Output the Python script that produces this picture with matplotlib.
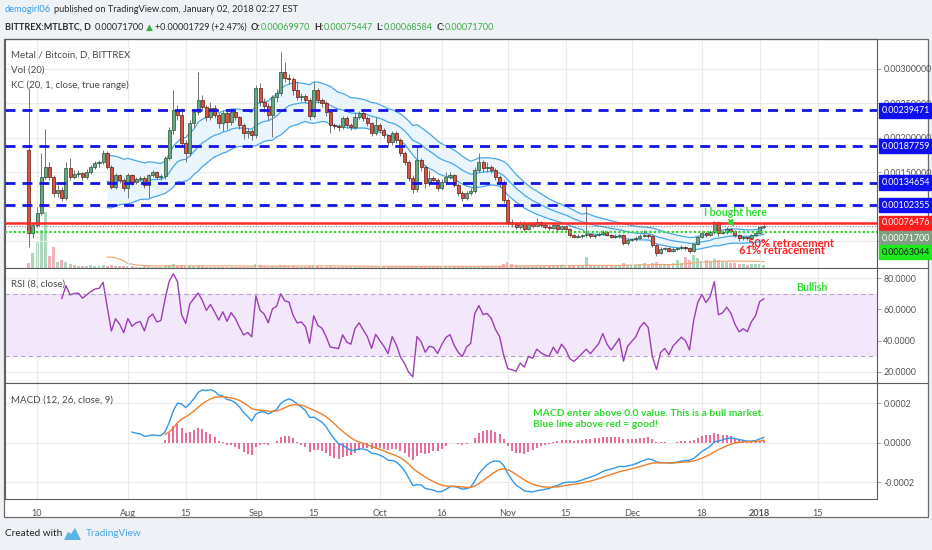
import numpy as np
import pandas as pd
import matplotlib

matplotlib.use("Agg")
import matplotlib.pyplot as plt
from matplotlib.patches import Rectangle, Polygon
from matplotlib.lines import Line2D

W, H = 932, 550
FONT = ["Lato", "DejaVu Sans"]
plt.rcParams["font.family"] = FONT

# ---- data: MTL/BTC daily candles, prices in satoshi (1e-8 BTC) ----
dates = pd.date_range("2017-07-08", "2018-01-02", freq="D")

open_sat = [
    182200, 61900, 73500, 90900, 143100, 157500, 143100, 119900, 124200, 112600,
    156100, 143100, 147400, 148800, 143100, 150300, 157500, 163300, 164800, 177800,
    157500, 128600, 145900, 138700, 127100, 145900, 135800, 140200, 141600, 131500,
    145900, 150300, 143100, 144500, 170600, 211200, 240200, 232900, 192300, 177800,
    221300, 237300, 254600, 244500, 230000, 243100, 232900, 221300, 235800, 222800,
    237300, 230000, 218400, 206800, 209700, 203900, 272000, 251700, 246000, 232900,
    259000, 264800, 295200, 286500, 285100, 269100, 259000, 260400, 254600, 231400,
    269100, 254600, 250300, 237300, 218400, 217000, 215500, 228600, 218400, 215500,
    230000, 235800, 228600, 221300, 206800, 218400, 211200, 203900, 193800, 206800,
    196700, 177800, 164800, 141600, 125700, 167700, 157500, 134300, 141600, 138700,
    127100, 135800, 143100, 145900, 131500, 119900, 112600, 119900, 122800, 153200,
    164800, 156100, 157500, 153200, 143100, 135800, 109700, 77800, 74900, 70600,
    76400, 67700, 74900, 72000, 77800, 73500, 70600, 69100, 73500, 67700,
    72000, 67700, 59000, 56100, 57500, 59000, 60400, 57500, 59000, 60400,
    63300, 59000, 56100, 57500, 59000, 47400, 51700, 53200, 54600, 57500,
    59000, 57500, 44500, 32900, 38700, 40200, 35800, 38700, 40200, 41600,
    40200, 35800, 45900, 56100, 61900, 59000, 63300, 77800, 61900, 63300,
    67700, 64800, 59000, 54600, 56100, 54600, 59000, 61900, 69970,
]
high_sat = [
    272000, 78000, 100000, 177800, 213000, 165000, 146000, 131000, 128000, 164800,
    170600, 153000, 153000, 151000, 154000, 161000, 166000, 168000, 182200, 180000,
    160000, 149000, 148000, 141000, 149000, 148000, 143000, 145000, 144000, 148000,
    153000, 152000, 147000, 173000, 216000, 269000, 247000, 243000, 196000, 226000,
    241000, 295200, 262000, 248000, 251000, 247000, 236000, 240000, 238000, 241000,
    240000, 232000, 221000, 214000, 213000, 276000, 279000, 258000, 250000, 262000,
    270000, 324600, 310000, 292000, 288000, 282000, 265000, 263000, 257000, 280000,
    272000, 258000, 253000, 240000, 222000, 220000, 232000, 231000, 221000, 237000,
    239000, 238000, 231000, 223000, 230000, 221000, 214000, 206000, 210000, 209000,
    199000, 180000, 168000, 146000, 186800, 171000, 160000, 153000, 145000, 141000,
    140000, 150000, 151000, 148000, 134000, 123000, 123000, 127000, 157000, 177800,
    168000, 165000, 160000, 156000, 146000, 138000, 112600, 82000, 78000, 79000,
    79000, 77000, 77000, 84000, 80000, 76000, 73000, 76000, 75000, 74000,
    74000, 69000, 61000, 60000, 61000, 102000, 62000, 61000, 63000, 66000,
    65000, 61000, 60000, 61000, 61000, 54000, 55000, 57000, 60000, 66000,
    61000, 59000, 46000, 41000, 42000, 42000, 41000, 42000, 44000, 43000,
    42000, 48000, 58000, 65000, 64000, 66000, 80000, 80000, 66000, 70000,
    69000, 66000, 60000, 58000, 58000, 61000, 63000, 72000, 75447,
]
low_sat = [
    41600, 55000, 70000, 88000, 140000, 138000, 114000, 114000, 108000, 110000,
    138000, 140000, 143000, 139000, 140000, 147000, 155000, 158000, 162000, 155000,
    125000, 126000, 134000, 123000, 113000, 132000, 133000, 137000, 127000, 113000,
    143000, 140000, 139000, 140000, 167000, 205000, 226000, 186000, 164800, 174000,
    216000, 233000, 238000, 224000, 225000, 228000, 214000, 210000, 213000, 219000,
    226000, 212000, 198000, 200000, 196700, 200000, 246000, 237000, 226000, 200700,
    252000, 260000, 280000, 278000, 262000, 255000, 253000, 250000, 225500, 228000,
    250000, 245000, 232000, 206800, 212000, 210000, 212000, 214000, 211000, 212000,
    227000, 224000, 217000, 203000, 204000, 207000, 199000, 188000, 190000, 193000,
    174000, 160000, 137000, 119900, 122000, 152000, 127000, 130000, 133000, 123000,
    124000, 132000, 140000, 128000, 116000, 108000, 110000, 117000, 120000, 150000,
    150000, 150000, 149000, 138000, 128000, 106000, 74000, 71000, 67000, 68000,
    65000, 66000, 69000, 70000, 71000, 68000, 66000, 67000, 65000, 66000,
    64000, 56000, 54000, 54000, 55000, 56000, 55000, 55000, 57000, 59000,
    57000, 54000, 54000, 55000, 44000, 45000, 50000, 51000, 53000, 56000,
    55000, 42000, 29000, 31000, 37000, 34000, 34000, 37000, 39000, 38000,
    33000, 35000, 44000, 54000, 56000, 57000, 61000, 58000, 60000, 61000,
    62000, 56000, 50000, 52000, 52000, 53000, 57000, 60000, 68584,
]
close_sat = [
    61900, 73500, 90900, 143100, 157500, 143100, 119900, 124200, 112600, 156100,
    143100, 147400, 148800, 143100, 150300, 157500, 163300, 164800, 177800, 157500,
    128600, 145900, 138700, 127100, 145900, 135800, 140200, 141600, 131500, 145900,
    150300, 143100, 144500, 170600, 211200, 240200, 232900, 192300, 177800, 221300,
    237300, 254600, 244500, 230000, 243100, 232900, 221300, 235800, 222800, 237300,
    230000, 218400, 206800, 209700, 203900, 272000, 251700, 246000, 232900, 259000,
    264800, 295200, 286500, 285100, 269100, 259000, 260400, 254600, 231400, 269100,
    254600, 250300, 237300, 218400, 217000, 215500, 228600, 218400, 215500, 230000,
    235800, 228600, 221300, 206800, 218400, 211200, 203900, 193800, 206800, 196700,
    177800, 164800, 141600, 125700, 167700, 157500, 134300, 141600, 138700, 127100,
    135800, 143100, 145900, 131500, 119900, 112600, 119900, 122800, 153200, 164800,
    156100, 157500, 153200, 143100, 135800, 109700, 77800, 74900, 70600, 76400,
    67700, 74900, 72000, 77800, 73500, 70600, 69100, 73500, 67700, 72000,
    67700, 59000, 56100, 57500, 59000, 60400, 57500, 59000, 60400, 63300,
    59000, 56100, 57500, 59000, 47400, 51700, 53200, 54600, 57500, 59000,
    57500, 44500, 32900, 38700, 40200, 35800, 38700, 40200, 41600, 40200,
    35800, 45900, 56100, 61900, 59000, 63300, 77800, 61900, 63300, 67700,
    64800, 59000, 54600, 56100, 54600, 59000, 61900, 69970, 71700,
]
volume = [
    5, 15, 27, 38, 56, 12, 21, 6, 8, 6,
    4, 3, 2, 2, 2, 3, 2, 2, 3, 2,
    3, 2, 2, 2, 2, 2, 1.5, 1.5, 2, 2,
    1.5, 1.5, 1.5, 3, 3, 4, 2, 3, 2, 2,
    2, 3, 2, 1.5, 1.5, 1.5, 1.5, 1.5, 1.5, 1.5,
    1.5, 1.5, 1.5, 1.5, 1.5, 4, 3, 2, 1.5, 2,
    2, 3, 3, 2, 2, 1.5, 1.5, 1.5, 2, 3,
    2, 1.5, 1.5, 2, 1.5, 1.5, 1.5, 1.5, 1.5, 1.5,
    1.5, 1.5, 1.5, 1.5, 1.5, 1.5, 1.5, 1.5, 1.5, 1.5,
    1.5, 2, 2, 2, 2, 1.5, 1.5, 1.5, 1.5, 1.5,
    1.5, 1.5, 1.5, 1.5, 1.5, 1.5, 1.5, 1.5, 2, 2,
    1.5, 1.5, 1.5, 1.5, 2, 4, 6, 4, 3, 2,
    2, 2, 2, 2, 2, 2, 2, 2, 2, 2,
    2, 3, 2, 2, 3, 11, 3, 2, 2, 2,
    2, 2, 2, 2, 5, 3, 3, 3, 4, 5,
    3, 5, 6, 4, 3, 4, 5, 8, 5, 11,
    8, 13, 10, 7, 8, 7, 9, 8, 6, 6,
    5, 5, 4, 4, 3, 4, 4, 4, 3,
]

# drawn levels
blue_levels = [0.00239471, 0.00187759, 0.00134654, 0.00102355]
red_level = 0.00076476
green_level = 0.00063044
last_price = 0.00071700

tick_dates = ["2017-07-10", "2017-08-01", "2017-08-15", "2017-09-01", "2017-09-15",
              "2017-10-01", "2017-10-16", "2017-11-01", "2017-11-15", "2017-12-01",
              "2017-12-18", "2018-01-01", "2018-01-15"]
tick_labels = ["10", "Aug", "15", "Sep", "15", "Oct", "16", "Nov", "15", "Dec", "18", "2018", "15"]
price_ticks = [0.0005, 0.0010, 0.0015, 0.0020, 0.0025, 0.0030]
# 0.0005 and 0.0010 sit fully under the price tags in the original
price_tick_labels = ["", "", "0.00150000", "0.00200000", "0.00250000", "0.00300000"]


# ---- indicators (as the chart computes them) ----
def smooth(src, n, alpha):
    src = np.asarray(src, float)
    out = np.full(src.shape, np.nan)
    ok = np.flatnonzero(~np.isnan(src))
    s = ok[0]
    out[s + n - 1] = src[s:s + n].mean()
    for k in range(s + n, len(src)):
        out[k] = alpha * src[k] + (1 - alpha) * out[k - 1]
    return out


def ema(src, n):
    return smooth(src, n, 2.0 / (n + 1))


def rma(src, n):
    return smooth(src, n, 1.0 / n)


o = np.array(open_sat) / 1e8
hi = np.array(high_sat) / 1e8
lo = np.array(low_sat) / 1e8
c = np.array(close_sat) / 1e8
vol = np.array(volume, float)
x = np.arange(len(dates))

prev = np.r_[np.nan, c[:-1]]
tr = np.nanmax(np.vstack([hi - lo, np.abs(hi - prev), np.abs(lo - prev)]), axis=0)
kc_mid = ema(c, 20)
kc_rng = ema(tr, 20)
kc_up, kc_lo = kc_mid + kc_rng, kc_mid - kc_rng

chg = np.r_[np.nan, np.diff(c)]
gain = np.where(chg > 0, chg, 0.0)
loss = np.where(chg < 0, -chg, 0.0)
gain[0] = loss[0] = np.nan
rsi = 100 - 100 / (1 + rma(gain, 8) / rma(loss, 8))

macd = ema(c, 12) - ema(c, 26)
signal = ema(macd, 9)
hist = macd - signal
vol_ma = pd.Series(vol).rolling(20).mean().to_numpy()

# ---- figure ----
fig = plt.figure(figsize=(W / 100, H / 100), dpi=100)
fig.patch.set_facecolor("#eef1f5")


def fx(px):
    return px / W


def fy(py):
    return 1 - py / H


fig.add_artist(Rectangle((fx(4), fy(517)), (928 - 4) / W, (517 - 39) / H,
                         transform=fig.transFigure, facecolor="white",
                         edgecolor="#6b6b6b", lw=0.9, zorder=-1))

L, R = 5, 877
rect_p = [fx(L), fy(268), (R - L) / W, (268 - 39) / H]
ax_v = fig.add_axes(rect_p)
ax_p = fig.add_axes(rect_p, sharex=ax_v)
ax_r = fig.add_axes([fx(L), fy(383), (R - L) / W, (383 - 268) / H], sharex=ax_v)
ax_m = fig.add_axes([fx(L), fy(499), (R - L) / W, (499 - 383) / H], sharex=ax_v)
ax_p.patch.set_alpha(0)

xt = (pd.to_datetime(tick_dates) - dates[0]).days.to_numpy()
grid_c = "#ebebeb"
TICK_KW = dict(labelsize=6.4, labelcolor="#555555", colors="#999999", length=3, width=0.6, pad=1.5)

for ax in (ax_v, ax_p, ax_r, ax_m):
    for sp in ax.spines.values():
        sp.set_color("#5c5c5c")
        sp.set_linewidth(0.8)
    ax.set_xticks(xt)
    ax.tick_params(axis="x", bottom=False, labelbottom=False)
ax_v.set_xlim(-5.76, 205.4)
ax_v.axis("off")

# volume (overlay at the bottom of the price pane)
vup = c >= o
ax_v.bar(x[vup], vol[vup], width=0.72, color="#acd9bd", lw=0)
ax_v.bar(x[~vup], vol[~vup], width=0.72, color="#f3b3bd", lw=0)
ax_v.plot(x, vol_ma, color="#f2a36d", lw=0.8)
ax_v.set_ylim(0, 229)

# price pane
ax_p.set_ylim(0.000112, 0.00343)
ax_p.yaxis.tick_right()
ax_p.set_yticks(price_ticks)
ax_p.set_yticklabels(price_tick_labels)
ax_p.tick_params(axis="y", **TICK_KW)
ax_p.grid(True, color=grid_c, lw=0.8, zorder=0)
ax_p.set_axisbelow(True)

ax_p.fill_between(x, kc_up, kc_lo, color="#eaf5fd", lw=0, zorder=1)
for band in (kc_up, kc_mid, kc_lo):
    ax_p.plot(x, band, color="#4aa8e6", lw=0.9, zorder=2)

up = c >= o
ax_p.vlines(x, lo, hi, color="#737375", lw=0.7, zorder=3)
ax_p.bar(x[up], (c - o)[up], bottom=o[up], width=0.74, color="#6ba583",
         edgecolor="#225437", lw=0.5, zorder=4)
ax_p.bar(x[~up], (o - c)[~up], bottom=c[~up], width=0.74, color="#d75442",
         edgecolor="#5b1a13", lw=0.5, zorder=4)

for lvl in blue_levels:
    ax_p.axhline(lvl, color="#1414e6", lw=2.0, dashes=(3.6, 2.5), zorder=5)
ax_p.axhline(red_level, color="#ff2a2a", lw=1.8, zorder=5)
ax_p.axhline(last_price, color="#8a8a8a", lw=0.8, dashes=(1, 1.5), zorder=5)
ax_p.axhline(green_level, color="#2fd82f", lw=1.6, dashes=(1, 1), zorder=5)


def price_tag(lvl, bg, fg, shift_px=0):
    ax_p.annotate(f"{lvl:.8f}", xy=(1, lvl), xycoords=("axes fraction", "data"),
                  xytext=(3.2, -shift_px * 0.72), textcoords="offset points",
                  ha="left", va="center", fontsize=6.4, color=fg,
                  bbox=dict(boxstyle="square,pad=0.32", fc=bg, ec=bg),
                  annotation_clip=False, zorder=10)


for lvl in blue_levels:
    price_tag(lvl, "#1010ee", "white")
price_tag(red_level, "#ff1c1c", "white")
price_tag(last_price, "#7f9f80", "white", 12.5)
price_tag(green_level, "#1ee81e", "#1a1a1a", 19.8)

green_txt = "#2edb2e"
ax_p.text(171.2, 0.000909, "I bought here", color=green_txt, fontsize=7.6,
          fontweight="bold", ha="center", va="center", zorder=8)
ax_p.annotate("", xy=(171.3, 0.000682), xytext=(169.2, 0.000842),
              arrowprops=dict(arrowstyle="-|>", color=green_txt, lw=1.4,
                              mutation_scale=8), zorder=8)
ax_p.text(184.5, 0.000474, "50% retracement", color="#ff2020", fontsize=8,
          fontweight="bold", ha="center", va="center", zorder=8)
ax_p.text(182.5, 0.000372, "61% retracement", color="#ff2020", fontsize=8,
          fontweight="bold", ha="center", va="center", zorder=8)

# RSI pane
ax_r.set_ylim(12.7, 86.6)
ax_r.yaxis.tick_right()
ax_r.set_yticks([20, 40, 60, 80])
ax_r.set_yticklabels([f"{v:.4f}" for v in (20, 40, 60, 80)])
ax_r.tick_params(axis="y", **TICK_KW)
ax_r.grid(True, color=grid_c, lw=0.8, zorder=0)
ax_r.set_axisbelow(True)
ax_r.axhspan(30, 70, color="#f3e7fc", lw=0, zorder=1)
for lvl in (70, 30):
    ax_r.axhline(lvl, color="#b9a3c8", lw=0.8, dashes=(4, 3), zorder=2)
ax_r.plot(x, rsi, color="#9c3fb5", lw=1.0, zorder=3)
ax_r.text(189.6, 73.8, "Bullish", color=green_txt, fontsize=7.6,
          fontweight="bold", ha="center", va="center")

# MACD pane
ax_m.set_ylim(-0.000284, 0.000301)
ax_m.yaxis.tick_right()
ax_m.set_yticks([-0.0002, 0.0, 0.0002])
ax_m.set_yticklabels(["-0.0002", "0.0000", "0.0002"])
ax_m.tick_params(axis="y", **TICK_KW)
ax_m.grid(True, color=grid_c, lw=0.8, zorder=0)
ax_m.set_axisbelow(True)
ax_m.vlines(x, 0, hist, color="#e8407f", lw=1.1, zorder=2)
ax_m.plot(x, macd, color="#3398e6", lw=1.0, zorder=3)
ax_m.plot(x, signal, color="#f07f2a", lw=1.0, zorder=3)
ax_m.text(122.1, 0.000146, "MACD enter above 0.0 value. This is a bull market.",
          color=green_txt, fontsize=7.4, fontweight="bold", ha="left", va="center")
ax_m.text(122.1, 0.0000905, "Blue line above red = good!",
          color=green_txt, fontsize=7.4, fontweight="bold", ha="left", va="center")

ax_m.tick_params(axis="x", labelbottom=True, labelsize=6.6, labelcolor="#555555", pad=4)
ax_m.set_xticklabels(tick_labels)
ax_m.get_xticklabels()[tick_labels.index("2018")].set_fontweight("bold")

# separators across the price-scale column
for yy in (268, 383):
    fig.add_artist(Line2D([fx(877), fx(928)], [fy(yy), fy(yy)], color="#5c5c5c", lw=0.8))

# pane legends
leg_c = "#4a4a4a"
fig.text(fx(11), fy(55), "Metal / Bitcoin, D, BITTREX", fontsize=7.0, color=leg_c, va="center")
fig.text(fx(11), fy(70), "Vol (20)", fontsize=7.0, color=leg_c, va="center")
fig.text(fx(11), fy(85), "KC (20, 1, close, true range)", fontsize=7.0, color=leg_c, va="center")
fig.text(fx(11), fy(284), "RSI (8, close)", fontsize=7.0, color=leg_c, va="center")
fig.text(fx(11), fy(400), "MACD (12, 26, close, 9)", fontsize=7.0, color=leg_c, va="center")

# header
renderer = fig.canvas.get_renderer()


def text_run(px, py, parts, size):
    for s, color, weight, gap in parts:
        t = fig.text(fx(px), fy(py), s, fontsize=size, color=color,
                     fontweight=weight, ha="left", va="center")
        px += t.get_window_extent(renderer).width + gap


dark, val_green = "#2b2b2b", "#3cae46"
text_run(5, 10, [("demogirl06", "#3a9fe4", "normal", 3),
                 ("published on TradingView.com, January 02, 2018 02:27 EST", dark, "normal", 0)], 6.7)
text_run(5, 27, [("BITTREX:MTLBTC, D", dark, "bold", 4),
                 ("0.00071700", dark, "normal", 2),
                 ("\u25b2", val_green, "normal", 2),
                 ("+0.00001729 (+2.47%)", dark, "normal", 4),
                 ("O:", dark, "bold", 0), ("0.00069970", val_green, "normal", 4),
                 ("H:", dark, "bold", 0), ("0.00075447", val_green, "normal", 4),
                 ("L:", dark, "bold", 0), ("0.00068584", val_green, "normal", 4),
                 ("C:", dark, "bold", 0), ("0.00071700", val_green, "normal", 0)], 6.5)

# footer
fig.text(fx(5), fy(534), "Created with", fontsize=7.2, color="#222222", va="center")
logo = [(64, 540), (68, 532), (71, 534), (75, 528), (81, 540)]
fig.add_artist(Polygon([(fx(a), fy(b)) for a, b in logo], closed=True,
                       transform=fig.transFigure, facecolor="#5cb3e6", edgecolor="none"))
fig.text(fx(86), fy(534), "TradingView", fontsize=7.2, color="#46a7e2", va="center")

fig.savefig("out.png", dpi=100, facecolor=fig.get_facecolor())
